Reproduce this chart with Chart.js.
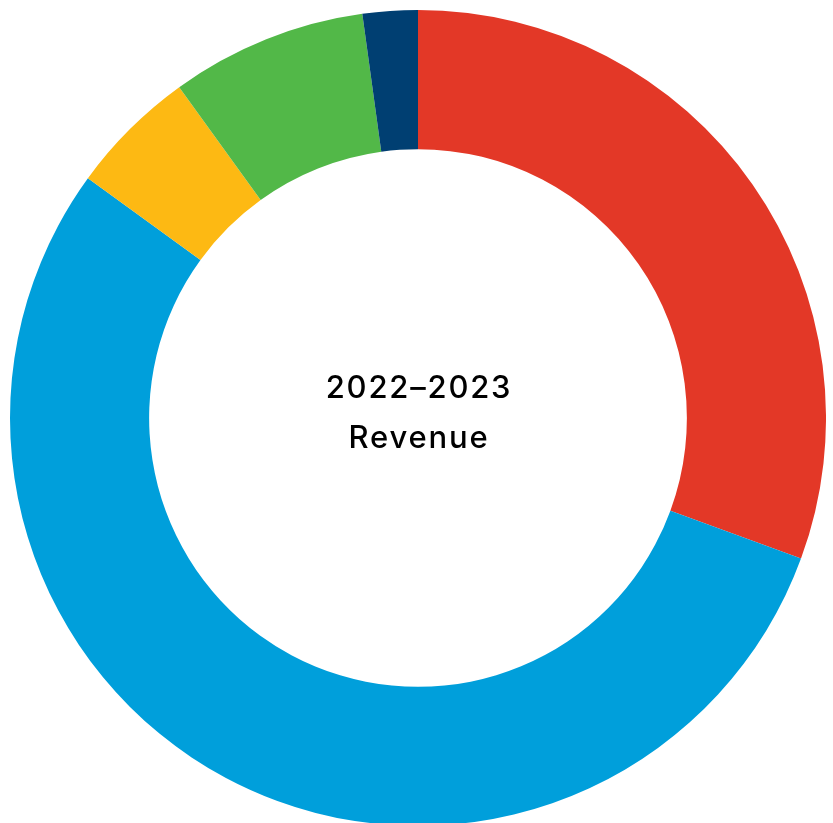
<!DOCTYPE html>
<html>
<head>
<meta charset="utf-8">
<script src="https://cdn.jsdelivr.net/npm/chart.js@4"></script>
<style>
  html, body { margin: 0; padding: 0; background: #fff; overflow: hidden; width: 833px; height: 823px; }
  #wrap { position: absolute; left: 10px; top: 10px; width: 816px; height: 816px; }
</style>
</head>
<body>
<div id="wrap"><canvas id="c"></canvas></div>
<script>
const categories = ["Segment A", "Segment B", "Segment C", "Segment D", "Segment E"];
const revenueShare = [30.6, 54.4, 5.05, 7.77, 2.18];
const sliceColors = ["#E33827", "#009FDB", "#FDB913", "#52B848", "#003F72"];
const centerLines = ["2022\u20132023", "Revenue"];

const centerText = {
  id: "centerText",
  afterDraw(chart) {
    const meta = chart.getDatasetMeta(0);
    if (!meta.data.length) return;
    const { x, y } = meta.data[0];
    const ctx = chart.ctx;
    ctx.save();
    ctx.fillStyle = "#000";
    ctx.textAlign = "center";
    ctx.textBaseline = "alphabetic";
    ctx.font = "500 31px Inter, 'DejaVu Sans', sans-serif";
    try { ctx.letterSpacing = "1.8px"; } catch (e) {}
    ctx.fillText(centerLines[0], x + 1, y - 20);
    ctx.fillText(centerLines[1], x + 1, y + 30);
    ctx.restore();
  }
};

new Chart(document.getElementById("c"), {
  type: "doughnut",
  data: {
    labels: categories,
    datasets: [{
      data: revenueShare,
      backgroundColor: sliceColors,
      borderWidth: 0,
      hoverOffset: 0
    }]
  },
  options: {
    responsive: true,
    maintainAspectRatio: false,
    animation: false,
    cutout: "65.9%",
    layout: { padding: 0 },
    plugins: {
      legend: { display: false },
      tooltip: { enabled: false }
    }
  },
  plugins: [centerText]
});
</script>
</body>
</html>
